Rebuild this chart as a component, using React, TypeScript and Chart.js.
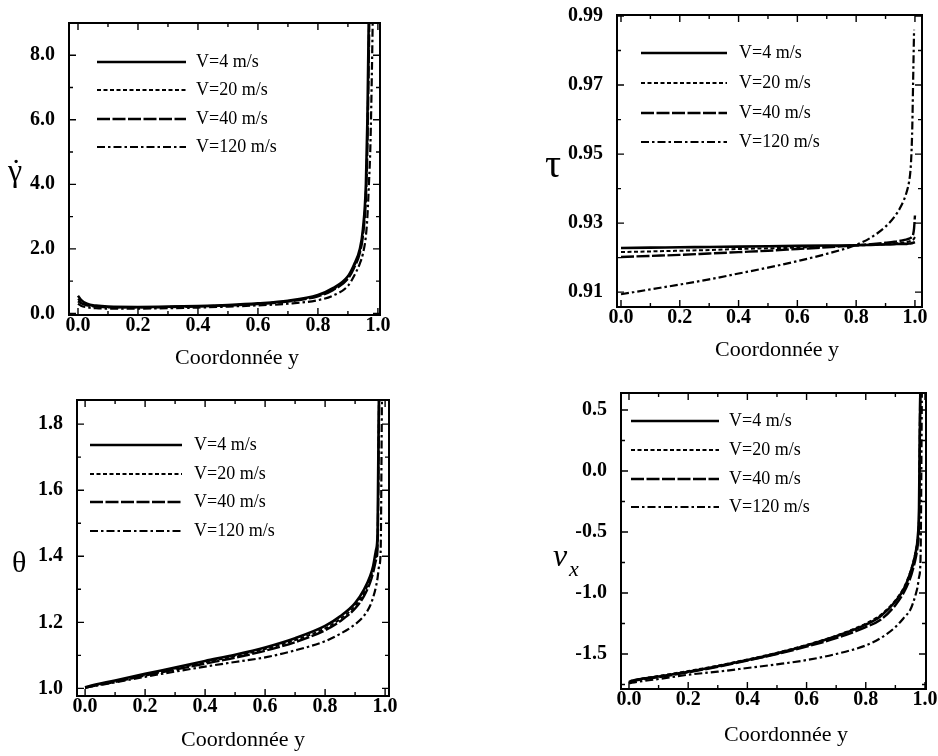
import React, { useEffect, useRef } from 'react';
import { Chart, registerables } from 'chart.js';

Chart.register(...registerables);

// ---------- shared data ----------
const SERIES_LABELS = ['V=4 m/s', 'V=20 m/s', 'V=40 m/s', 'V=120 m/s'];
const X_TITLE = 'Coordonnée y';
const X_TICKS = [0, 0.2, 0.4, 0.6, 0.8, 1.0];
const X_TICK_LABELS = ['0.0', '0.2', '0.4', '0.6', '0.8', '1.0'];

// ---------- panel 1 : shear rate ----------
const GAMMA_X = [0, 0.01, 0.03, 0.06, 0.1, 0.2, 0.3, 0.4, 0.5, 0.6, 0.7, 0.8, 0.85, 0.9, 0.92, 0.94, 0.95, 0.96, 0.965, 0.97, 0.975, 0.98, 0.985];
const GAMMA_V4 = [0.55, 0.42, 0.3, 0.24, 0.21, 0.2, 0.21, 0.23, 0.26, 0.31, 0.39, 0.57, 0.78, 1.15, 1.5, 2.0, 2.6, 4.0, 6.0, 9.5, 13, 16, 18];
const GAMMA_V20 = [0.45, 0.36, 0.27, 0.22, 0.2, 0.19, 0.2, 0.22, 0.25, 0.3, 0.38, 0.55, 0.75, 1.1, 1.45, 1.95, 2.5, 3.8, 5.6, 8.8, 12.5, 16, 18];
const GAMMA_V40 = [0.38, 0.32, 0.25, 0.21, 0.19, 0.185, 0.195, 0.215, 0.245, 0.29, 0.37, 0.53, 0.72, 1.07, 1.4, 1.88, 2.4, 3.6, 5.2, 8.2, 12, 15.5, 18];
const GAMMA_V120 = [0.3, 0.24, 0.19, 0.16, 0.15, 0.15, 0.16, 0.18, 0.21, 0.25, 0.3, 0.41, 0.55, 0.85, 1.15, 1.55, 1.85, 2.4, 3.0, 4.0, 5.2, 7.5, 10.5];
const GAMMA_Y_TICKS = [0, 2, 4, 6, 8];
const GAMMA_Y_LABELS = ['0.0', '2.0', '4.0', '6.0', '8.0'];

// ---------- panel 2 : tau ----------
const TAU_X = [0, 0.1, 0.2, 0.3, 0.4, 0.5, 0.6, 0.7, 0.8, 0.85, 0.9, 0.93, 0.95, 0.97, 0.98, 0.985, 0.988, 0.991, 0.994, 0.997, 1.0];
const TAU_V4 = [0.9228, 0.9229, 0.923, 0.9231, 0.9232, 0.9233, 0.9234, 0.9235, 0.9236, 0.9237, 0.9238, 0.9239, 0.924, 0.924, 0.9241, 0.9241, 0.9242, 0.9242, 0.9243, 0.9244, 0.9245];
const TAU_V20 = [0.9216, 0.9218, 0.922, 0.9222, 0.9225, 0.9227, 0.9229, 0.9232, 0.9235, 0.9237, 0.9239, 0.9241, 0.9243, 0.9245, 0.9247, 0.9248, 0.9249, 0.925, 0.9252, 0.9255, 0.926];
const TAU_V40 = [0.9202, 0.9205, 0.9208, 0.9212, 0.9216, 0.922, 0.9225, 0.923, 0.9236, 0.9239, 0.9243, 0.9246, 0.9249, 0.9252, 0.9255, 0.9257, 0.9259, 0.9262, 0.9268, 0.9285, 0.9322];
const TAU_V120 = [0.9094, 0.9108, 0.9122, 0.9137, 0.9154, 0.9171, 0.919, 0.9211, 0.9237, 0.9258, 0.929, 0.9318, 0.9345, 0.9385, 0.942, 0.9455, 0.95, 0.958, 0.972, 0.986, null];
const TAU_Y_TICKS = [0.91, 0.93, 0.95, 0.97, 0.99];
const TAU_Y_LABELS = ['0.91', '0.93', '0.95', '0.97', '0.99'];

// ---------- panel 3 : theta ----------
const THETA_X = [0, 0.01, 0.1, 0.2, 0.3, 0.4, 0.5, 0.6, 0.7, 0.8, 0.85, 0.9, 0.93, 0.95, 0.96, 0.97, 0.975, 0.98, 0.985, 0.99];
const THETA_V4 = [1.003, 1.006, 1.024, 1.044, 1.063, 1.083, 1.102, 1.124, 1.152, 1.189, 1.218, 1.258, 1.3, 1.34, 1.37, 1.42, 1.47, 1.95, 2.0, 2.0];
const THETA_V20 = [1.002, 1.005, 1.022, 1.042, 1.06, 1.079, 1.098, 1.119, 1.146, 1.182, 1.21, 1.25, 1.29, 1.33, 1.36, 1.4, 1.45, 1.9, 2.0, 2.0];
const THETA_V40 = [1.002, 1.004, 1.02, 1.039, 1.057, 1.075, 1.093, 1.114, 1.14, 1.176, 1.203, 1.242, 1.28, 1.32, 1.35, 1.39, 1.43, 1.85, 2.0, 2.0];
const THETA_V120 = [1.002, 1.004, 1.018, 1.035, 1.051, 1.066, 1.08, 1.094, 1.115, 1.143, 1.165, 1.194, 1.22, 1.25, 1.275, 1.31, 1.335, 1.37, 1.41, 1.95];
const THETA_Y_TICKS = [1.0, 1.2, 1.4, 1.6, 1.8];
const THETA_Y_LABELS = ['1.0', '1.2', '1.4', '1.6', '1.8'];

// ---------- panel 4 : vx ----------
const VX_X = [0, 0.01, 0.1, 0.2, 0.3, 0.4, 0.5, 0.6, 0.7, 0.8, 0.85, 0.9, 0.93, 0.95, 0.96, 0.97, 0.975, 0.98, 0.985, 0.99];
const VX_V4 = [-1.73, -1.72, -1.685, -1.645, -1.6, -1.55, -1.495, -1.43, -1.355, -1.26, -1.19, -1.07, -0.96, -0.84, -0.76, -0.65, -0.56, -0.3, 0.8, 0.9];
const VX_V20 = [-1.73, -1.72, -1.68, -1.64, -1.595, -1.545, -1.49, -1.425, -1.35, -1.25, -1.18, -1.06, -0.95, -0.83, -0.75, -0.64, -0.56, -0.35, 0.8, 0.9];
const VX_V40 = [-1.735, -1.725, -1.69, -1.65, -1.605, -1.555, -1.5, -1.44, -1.37, -1.28, -1.22, -1.1, -0.99, -0.88, -0.8, -0.7, -0.62, -0.42, 0.8, 0.9];
const VX_V120 = [-1.74, -1.735, -1.705, -1.67, -1.645, -1.615, -1.585, -1.55, -1.5, -1.43, -1.37, -1.28, -1.2, -1.14, -1.08, -1.0, -0.95, -0.87, -0.72, 0.8];
const VX_Y_TICKS = [-1.5, -1.0, -0.5, 0.0, 0.5];
const VX_Y_LABELS = ['-1.5', '-1.0', '-0.5', '0.0', '0.5'];

// ---------- styles ----------
const LINE_STYLES = [
  { width: 2.6, dash: [] as number[] },
  { width: 2, dash: [4, 2.5] },
  { width: 2.4, dash: [13, 2.5] },
  { width: 2.2, dash: [8, 3, 2.5, 3] },
];
const SERIF = '"Liberation Serif", "Times New Roman", serif';

const framePlugin = {
  id: 'paperFrame',
  afterDraw(chart: any, _args: any, o: any) {
    const { ctx, chartArea: a } = chart;
    const xs = chart.scales.x;
    const ys = chart.scales.y;
    ctx.save();
    ctx.strokeStyle = '#000';
    ctx.fillStyle = '#000';
    ctx.setLineDash([]);
    const minors = (min: number, max: number, step: number, majors: number[]) => {
      const out: number[] = [];
      for (let k = Math.ceil(min / step - 1e-9); k * step <= max + 1e-9; k++) {
        const v = k * step;
        if (!majors.some((m) => Math.abs(m - v) < step * 1e-3)) out.push(v);
      }
      return out;
    };
    ctx.lineWidth = 1.4;
    const xt = (v: number, len: number) => {
      const p = xs.getPixelForValue(v);
      ctx.beginPath();
      ctx.moveTo(p, a.bottom); ctx.lineTo(p, a.bottom - len);
      ctx.moveTo(p, a.top); ctx.lineTo(p, a.top + len);
      ctx.stroke();
    };
    const yt = (v: number, len: number) => {
      const p = ys.getPixelForValue(v);
      ctx.beginPath();
      ctx.moveTo(a.left, p); ctx.lineTo(a.left + len, p);
      ctx.moveTo(a.right, p); ctx.lineTo(a.right - len, p);
      ctx.stroke();
    };
    X_TICKS.forEach((v) => xt(v, 7));
    minors(xs.min, xs.max, 0.1, X_TICKS).forEach((v) => xt(v, 4));
    o.yTicks.forEach((v: number) => yt(v, 7));
    minors(ys.min, ys.max, o.yMinorStep, o.yTicks).forEach((v) => yt(v, 4));

    ctx.lineWidth = 2;
    ctx.strokeRect(a.left, a.top, a.right - a.left, a.bottom - a.top);

    // y-axis symbol (alphabetic baseline)
    const Y = o.yLabel;
    ctx.textAlign = 'left';
    ctx.textBaseline = 'alphabetic';
    ctx.font = Y.font;
    ctx.fillText(Y.text, Y.x, Y.y);
    if (Y.accent) {
      const w = ctx.measureText(Y.text).width;
      ctx.textAlign = 'center';
      ctx.fillText(Y.accent, Y.x + w / 2 + (Y.accentDx || 0), Y.accentY);
      ctx.textAlign = 'left';
    }
    if (Y.sub) {
      ctx.font = Y.subFont;
      ctx.fillText(Y.sub, Y.sx, Y.sy);
    }
    // x-axis title
    ctx.textBaseline = 'middle';
    ctx.textAlign = 'center';
    ctx.font = `22px ${SERIF}`;
    ctx.fillText(X_TITLE, o.xTitle.x, o.xTitle.y);

    // legend
    const L = o.legend;
    ctx.textAlign = 'left';
    ctx.font = `18px ${SERIF}`;
    chart.data.datasets.forEach((ds: any, i: number) => {
      const y = L.rows[i];
      ctx.lineWidth = ds.borderWidth;
      ctx.setLineDash(ds.borderDash || []);
      ctx.beginPath();
      ctx.moveTo(L.x1, y);
      ctx.lineTo(L.x2, y);
      ctx.stroke();
      ctx.setLineDash([]);
      ctx.fillText(ds.label, L.tx, y);
    });
    ctx.restore();
  },
};

type PanelCfg = {
  left: number; top: number;
  yWidth: number; xHeight: number; padTop: number; padRight: number;
  xMin: number; xMax: number; yMin: number; yMax: number;
  xs: number[]; series: (number | null)[][];
  yTicks: number[]; yLabels: string[]; yMinorStep: number;
  yLabel: any; xTitle: { x: number; y: number };
  legend: { x1: number; x2: number; tx: number; rows: number[] };
};

const PANELS: PanelCfg[] = [
  {
    left: 0, top: 0, yWidth: 69, xHeight: 63, padTop: 23, padRight: 89,
    xMin: -0.03, xMax: 1.007, yMin: -0.05, yMax: 9.0,
    xs: GAMMA_X, series: [GAMMA_V4, GAMMA_V20, GAMMA_V40, GAMMA_V120],
    yTicks: GAMMA_Y_TICKS, yLabels: GAMMA_Y_LABELS, yMinorStep: 1,
    yLabel: { text: 'γ', x: 8, y: 181, font: `32px ${SERIF}`, accent: '˙', accentY: 181, accentDx: 1 },
    xTitle: { x: 237, y: 358 },
    legend: { x1: 97, x2: 186, tx: 196, rows: [62, 90, 119, 147] },
  },
  {
    left: 469, top: 0, yWidth: 148, xHeight: 71, padTop: 15, padRight: 16,
    xMin: -0.0136, xMax: 1.024, yMin: 0.9057, yMax: 0.9903,
    xs: TAU_X, series: [TAU_V4, TAU_V20, TAU_V40, TAU_V120],
    yTicks: TAU_Y_TICKS, yLabels: TAU_Y_LABELS, yMinorStep: 0.01,
    yLabel: { text: 'τ', x: 76, y: 177, font: `40px ${SERIF}` },
    xTitle: { x: 308, y: 350 },
    legend: { x1: 172, x2: 258, tx: 270, rows: [53, 83, 113, 142] },
  },
  {
    left: 0, top: 378, yWidth: 77, xHeight: 60, padTop: 22, padRight: 80,
    xMin: -0.027, xMax: 1.013, yMin: 0.977, yMax: 1.873,
    xs: THETA_X, series: [THETA_V4, THETA_V20, THETA_V40, THETA_V120],
    yTicks: THETA_Y_TICKS, yLabels: THETA_Y_LABELS, yMinorStep: 0.1,
    yLabel: { text: 'θ', x: 12, y: 194, font: `30px ${SERIF}` },
    xTitle: { x: 243, y: 362 },
    legend: { x1: 90, x2: 182, tx: 194, rows: [67, 96, 124, 153] },
  },
  {
    left: 469, top: 378, yWidth: 152, xHeight: 67, padTop: 15, padRight: 12,
    xMin: -0.027, xMax: 1.0035, yMin: -1.787, yMax: 0.639,
    xs: VX_X, series: [VX_V4, VX_V20, VX_V40, VX_V120],
    yTicks: VX_Y_TICKS, yLabels: VX_Y_LABELS, yMinorStep: 0.25,
    yLabel: { text: 'ν', x: 84, y: 188, font: `italic 32px ${SERIF}`, sub: 'x', sx: 100, sy: 198, subFont: `italic 22px ${SERIF}` },
    xTitle: { x: 317, y: 357 },
    legend: { x1: 162, x2: 250, tx: 260, rows: [43, 72, 101, 129] },
  },
];

const W = 469;
const H = 378;

function Panel({ p }: { p: PanelCfg }) {
  const ref = useRef<HTMLCanvasElement | null>(null);
  useEffect(() => {
    if (!ref.current) return;
    const tickFont = { family: SERIF, size: 20, weight: 'bold' as const, lineHeight: 1 };
    const chart = new Chart(ref.current, {
      type: 'line',
      data: {
        datasets: p.series.map((vals, i) => ({
          label: SERIES_LABELS[i],
          data: p.xs.map((x, j) => ({ x, y: vals[j] })),
          borderColor: '#000',
          backgroundColor: '#000',
          borderWidth: LINE_STYLES[i].width,
          borderDash: LINE_STYLES[i].dash,
          pointRadius: 0,
          cubicInterpolationMode: 'monotone',
          fill: false,
        })),
      } as any,
      options: {
        responsive: false,
        animation: false,
        layout: { padding: { left: 0, top: p.padTop, right: p.padRight, bottom: 0 } },
        plugins: {
          legend: { display: false },
          tooltip: { enabled: false },
          paperFrame: {
            yTicks: p.yTicks, yMinorStep: p.yMinorStep, yLabel: p.yLabel,
            xTitle: p.xTitle, legend: p.legend,
          },
        } as any,
        scales: {
          x: {
            type: 'linear', min: p.xMin, max: p.xMax,
            grid: { display: false }, border: { display: false },
            ticks: {
              font: tickFont, color: '#000', padding: -7, maxRotation: 0, autoSkip: false,
              callback: (_v: any, i: number) => X_TICK_LABELS[i],
            },
            afterBuildTicks: (s: any) => { s.ticks = X_TICKS.map((value) => ({ value })); },
            afterFit: (s: any) => { s.height = p.xHeight; s.paddingLeft = 0; s.paddingRight = 0; },
          },
          y: {
            type: 'linear', min: p.yMin, max: p.yMax,
            grid: { display: false }, border: { display: false },
            ticks: {
              font: tickFont, color: '#000', padding: 6, autoSkip: false,
              callback: (_v: any, i: number) => p.yLabels[i],
            },
            afterBuildTicks: (s: any) => { s.ticks = p.yTicks.map((value) => ({ value })); },
            afterFit: (s: any) => { s.width = p.yWidth; s.paddingTop = 0; s.paddingBottom = 0; },
          },
        } as any,
      },
      plugins: [framePlugin as any],
    });
    return () => chart.destroy();
  }, [p]);
  return (
    <canvas
      ref={ref}
      width={W}
      height={H}
      style={{ position: 'absolute', left: p.left, top: p.top, width: W, height: H }}
    />
  );
}

export default function App() {
  return (
    <div style={{ position: 'absolute', left: 0, top: 0, width: 938, height: 756, background: '#fff', overflow: 'hidden' }}>
      {PANELS.map((p, i) => (
        <Panel key={i} p={p} />
      ))}
    </div>
  );
}
